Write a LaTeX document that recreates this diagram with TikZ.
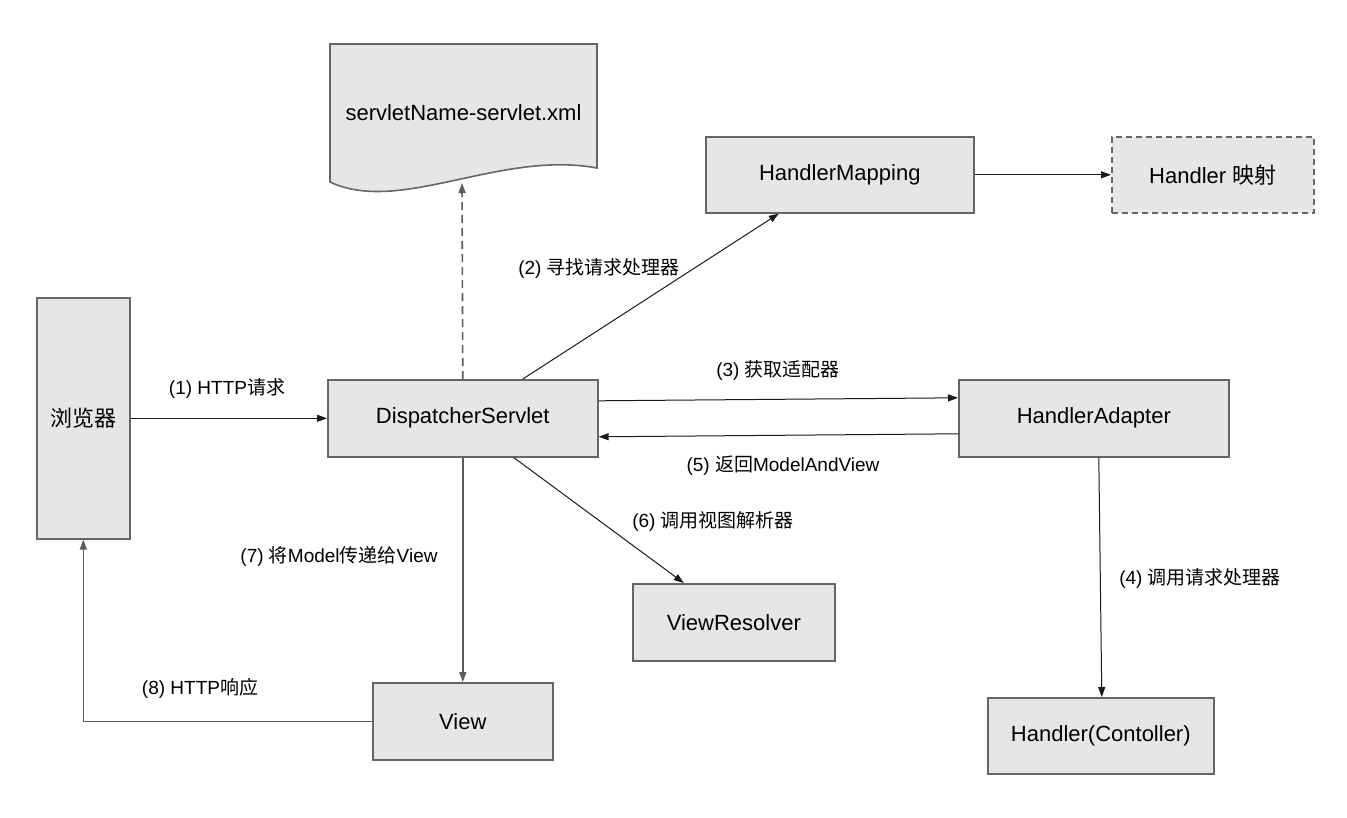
\documentclass[tikz,border=0pt]{standalone}
\usepackage{fontspec}
\setmainfont{Liberation Sans}
\newfontfamily\cjk{Noto Sans CJK SC}
\newcommand\zhtxt[1]{{\cjk #1}}
\usetikzlibrary{arrows.meta}
\definecolor{boxfill}{HTML}{E6E6E6}
\definecolor{boxline}{HTML}{666666}
\definecolor{arrline}{HTML}{1A1A1A}
\definecolor{grayline}{HTML}{5C5C5C}
\begin{document}
\begin{tikzpicture}[x=1pt,y=-1pt,
  box/.style={draw=boxline,line width=1.6pt,fill=boxfill,inner sep=0pt,
    font=\fontsize{22}{26}\selectfont,anchor=north west},
  dbox/.style={box,dashed,dash pattern=on 6pt off 4pt},
  lbl/.style={font=\fontsize{19}{22}\selectfont,inner sep=0pt},
  arr/.style={draw=arrline,line width=1pt,-{Triangle[length=10pt,width=7pt]}},
  garr/.style={draw=grayline,line width=1.4pt,-{Triangle[length=10pt,width=7pt]}},
  darr/.style={draw=grayline,line width=1.6pt,dash pattern=on 8pt off 5pt,-{Triangle[length=10pt,width=7pt]}}
]
\useasboundingbox (0,0) rectangle (1347,817);
% document shape
\path[draw=boxline,line width=1.6pt,fill=boxfill]
  (330,44) -- (597,44) -- (597,168)
  .. controls (500,150) and (400,215) .. (330,182) -- cycle;
\node[font=\fontsize{22}{26}\selectfont] (doc) at (463.5,113) {servletName-servlet.xml};
\coordinate (docb) at (462,183);

\node[box,minimum width=268pt,minimum height=76pt] (hm) at (705,136) {HandlerMapping};
\node[dbox,minimum width=202pt,minimum height=76pt] (hmap) at (1111,136) {Handler \zhtxt{映射}};
\node[box,minimum width=93pt,minimum height=241pt] (bro) at (36,297) {\zhtxt{浏览器}};
\node[box,minimum width=270pt,minimum height=77pt] (ds) at (327,379) {DispatcherServlet};
\node[box,minimum width=270pt,minimum height=77pt] (ha) at (958,379) {HandlerAdapter};
\node[box,minimum width=202pt,minimum height=77pt] (vr) at (632,583) {ViewResolver};
\node[box,minimum width=180pt,minimum height=77pt] (view) at (372,682) {View};
\node[box,minimum width=226pt,minimum height=76pt] (hc) at (987,697) {Handler(Contoller)};

% connectors
\draw[arr] (bro.east) -- (ds.west);
\draw[darr] (ds.north) -- (docb);
\draw[arr] ([xshift=60pt]ds.north) -- ([xshift=-61pt]hm.south);
\draw[arr] (hm.east) -- (hmap.west);
\draw[arr] ([yshift=17.5pt]ds.east) -- ([yshift=20.5pt]ha.west);
\draw[arr] ([yshift=-15.5pt]ha.west) -- ([yshift=-18.5pt]ds.east);
\draw[arr] ([xshift=5pt]ha.south) -- ([xshift=1pt]hc.north);
\draw[arr] ([xshift=51pt]ds.south) -- ([xshift=-50pt]vr.north);
\draw[garr] (ds.south) -- (view.north);
\draw[garr] (view.west) -| (bro.south);

% labels
\node[lbl] (l1) at (227,388) {(1) HTTP\zhtxt{请求}};
\node[lbl] (l2) at (599,268) {(2) \zhtxt{寻找请求处理器}};
\node[lbl] (l3) at (778,370) {(3) \zhtxt{获取适配器}};
\node[lbl] (l5) at (783,466) {(5) \zhtxt{返回}ModelAndView};
\node[lbl] (l6) at (713,521) {(6) \zhtxt{调用视图解析器}};
\node[lbl] (l7) at (339,556) {(7) \zhtxt{将}Model\zhtxt{传递给}View};
\node[lbl] (l8) at (200,688) {(8) HTTP\zhtxt{响应}};
\node[lbl] (l4) at (1200,578) {(4) \zhtxt{调用请求处理器}};
\end{tikzpicture}
\end{document}
